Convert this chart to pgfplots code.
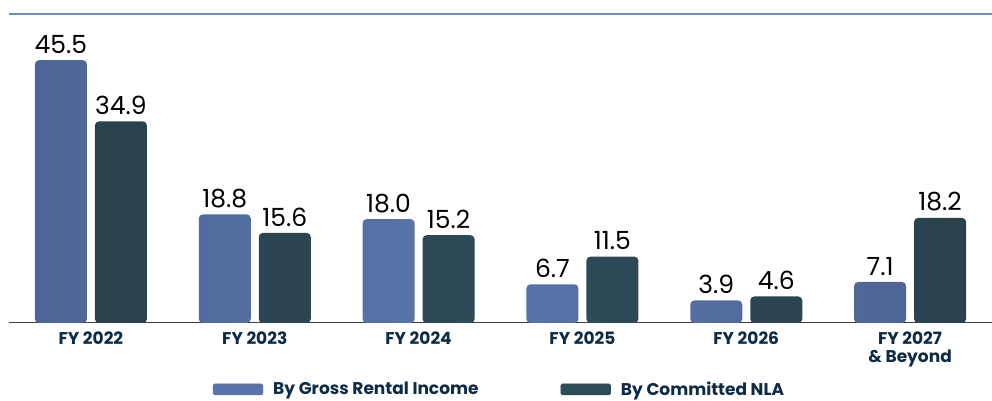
\documentclass[border=0pt]{standalone}
\usepackage{pgfplots}
\pgfplotsset{compat=1.18}
\usepackage{fontspec}
\setmainfont{Poppins}
\definecolor{gri}{HTML}{5874AA}
\definecolor{nla}{HTML}{2E4B58}
\definecolor{navy}{HTML}{0D2B45}
\definecolor{rulec}{HTML}{6E8CC0}
\begin{document}
\begin{tikzpicture}
\useasboundingbox (0,0) rectangle (992pt,401pt);
\draw[rulec, line width=1.6pt] (9pt,387pt) -- (992pt,387pt);
\begin{axis}[
  at={(9pt,78pt)}, anchor=south west,
  scale only axis, width=983pt, height=309pt,
  xmin=-0.5, xmax=5.5, ymin=0, ymax=53.5,
  axis x line*=bottom, axis y line=none,
  x axis line style={draw=black!75, line width=1pt},
  ybar, bar width=52pt,
  xtick={0,1,2,3,4,5},
  xticklabels={FY 2022,FY 2023,FY 2024,FY 2025,FY 2026,{FY 2027\\\& Beyond}},
  major tick length=0pt,
  xticklabel style={font=\bfseries\fontsize{17}{18}\selectfont, text=navy, align=center, yshift=-5pt},
  /pgf/number format/assume math mode=true,
  nodes near coords,
  nodes near coords style={font=\fontsize{25}{27}\selectfont, text=black, yshift=3pt,
    /pgf/number format/.cd, fixed, fixed zerofill, precision=1},
  legend style={at={(0.499,-0.215)}, anchor=center, legend columns=2, draw=none, fill=none,
    font=\bfseries\fontsize{17}{18}\selectfont, text=navy,
    /tikz/every even column/.append style={column sep=80pt}},
  clip=false,
]
\addplot[bar shift=-30pt, draw=none, left color=gri!88!black, right color=gri!88!black, middle color=gri, rounded corners=4pt, forget plot]
  coordinates {(0,45.5) (1,18.8) (2,18.0) (3,6.7) (4,3.9) (5,7.1)};
\addplot[bar shift=30pt, draw=none, left color=nla!88!black, right color=nla!88!black, middle color=nla, rounded corners=4pt, forget plot]
  coordinates {(0,34.9) (1,15.6) (2,15.2) (3,11.5) (4,4.6) (5,18.2)};
\addlegendimage{legend image code/.code={\fill[gri, rounded corners=1.5pt] (0pt,-5.5pt) rectangle (50pt,5.5pt); \path (58pt,0pt);}}
\addlegendentry{By Gross Rental Income}
\addlegendimage{legend image code/.code={\fill[nla, rounded corners=1.5pt] (0pt,-5.5pt) rectangle (50pt,5.5pt); \path (58pt,0pt);}}
\addlegendentry{By Committed NLA}
\end{axis}
\end{tikzpicture}
\end{document}
